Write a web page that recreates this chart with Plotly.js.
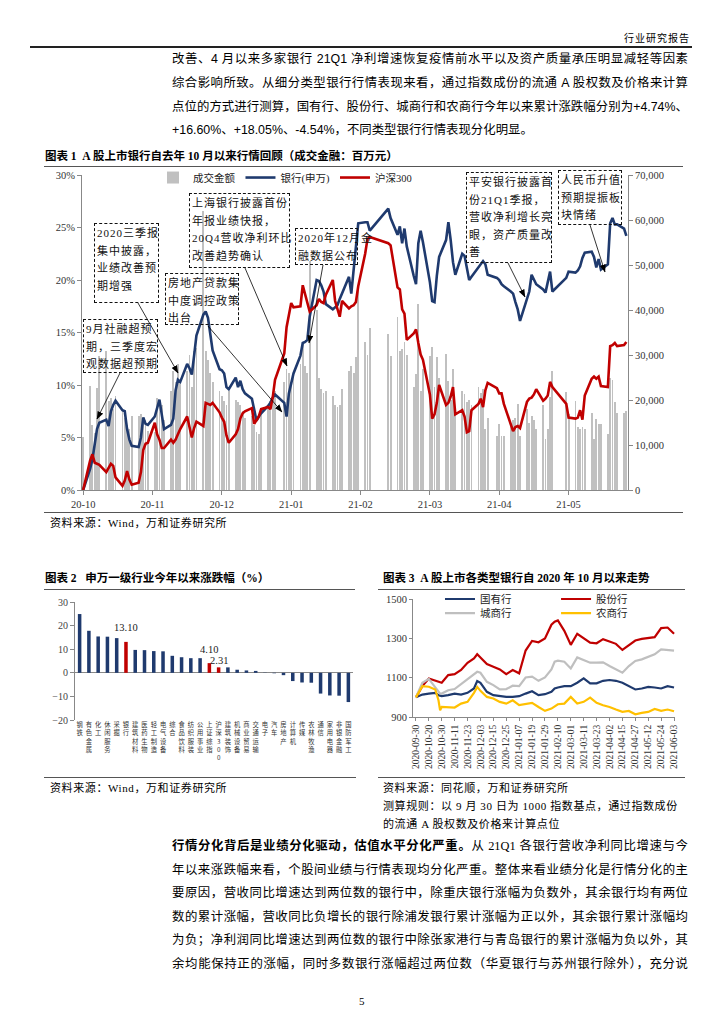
<!DOCTYPE html>
<html><head><meta charset="utf-8">
<script src="https://cdn.plot.ly/plotly-3.0.1.min.js"></script>
<style>
body{margin:0;width:724px;height:1024px;background:#fff;position:relative;overflow:hidden;font-family:"Liberation Serif","Noto Sans CJK SC",serif;color:#000}
.a{position:absolute}
.p{position:absolute;left:172px;width:516px;font-size:12.4px;line-height:16px;text-align:justify;text-align-last:justify;font-family:"Liberation Sans","Noto Sans CJK SC",sans-serif}
.p2{font-family:"Liberation Serif","Noto Sans CJK SC",serif}
.last{text-align-last:left}
.ttl{position:absolute;font-size:11.5px;font-weight:bold;line-height:14px;font-family:"Liberation Serif","Noto Sans CJK SC",serif;white-space:nowrap}
.rule{position:absolute;background:#555;height:1px}
.src{position:absolute;font-size:11px;line-height:14px;white-space:nowrap;letter-spacing:0.6px}
.box{position:absolute;border:1.3px dashed #111;box-sizing:border-box;font-size:11px;line-height:17.5px;letter-spacing:1px;padding:1px 0 0 2px;white-space:nowrap;font-family:"Liberation Serif","Noto Sans CJK SC",serif;color:#111}
</style></head>
<body>
<div class="a" style="right:34px;top:30px;font-size:10px;font-family:'Noto Sans CJK SC';letter-spacing:1px">行业研究报告</div>
<div class="rule" style="left:30px;top:46px;width:662px;height:1.5px;background:#222"></div>

<div class="p" style="top:51px">改善、4 月以来多家银行 21Q1 净利增速恢复疫情前水平以及资产质量承压明显减轻等因素</div>
<div class="p" style="top:75px">综合影响所致。从细分类型银行行情表现来看，通过指数成份的流通 A 股权数及价格来计算</div>
<div class="p" style="top:99px">点位的方式进行测算，国有行、股份行、城商行和农商行今年以来累计涨跌幅分别为+4.74%、</div>
<div class="p last" style="top:122px">+16.60%、+18.05%、-4.54%，不同类型银行行情表现分化明显。</div>

<div class="ttl" style="left:45px;top:149px">图表 1&nbsp;&nbsp;A 股上市银行自去年 10 月以来行情回顾（成交金融：百万元）</div>
<div class="rule" style="left:44px;top:166px;width:639px"></div>
<div id="c1" class="a" style="left:30px;top:146px;width:670px;height:365px"></div>
<div class="rule" style="left:44px;top:512px;width:639px"></div>
<div class="src" style="left:50px;top:516px">资料来源：Wind，万和证券研究所</div>

<div class="box" style="left:94px;top:223px;width:65px;height:80px">2020三季报<br>集中披露，<br>业绩改善预<br>期增强</div>
<div class="box" style="left:83px;top:319px;width:75px;height:54px">9月社融超预<br>期，三季度宏<br>观数据超预期</div>
<div class="box" style="left:165px;top:273px;width:74px;height:52px">房地产贷款集<br>中度调控政策<br>出台</div>
<div class="box" style="left:189px;top:193px;width:101px;height:75px">上海银行披露首份<br>年报业绩快报，<br>20Q4营收净利环比<br>改善趋势确认</div>
<div class="box" style="left:295px;top:228px;width:63px;height:37px">2020年12月金<br>融数据公布</div>
<div class="box" style="left:466px;top:172px;width:86px;height:91px">平安银行披露首<br>份21Q1季报，<br>营收净利增长亮<br>眼，资产质量改<br>善</div>
<div class="box" style="left:558px;top:170px;width:64px;height:55px">人民币升值<br>预期提振板<br>块情绪</div>

<svg class="a" style="left:0;top:0" width="724" height="1024">
<defs><marker id="ah" markerWidth="8" markerHeight="6" refX="7.5" refY="3" orient="auto" markerUnits="userSpaceOnUse"><path d="M0,0 L8,3 L0,6 z" fill="#000"/></marker></defs>
<g stroke="#000" stroke-width="0.8" marker-end="url(#ah)">
<line x1="138" y1="303" x2="178" y2="373"/>
<line x1="120" y1="373" x2="97" y2="419"/>
<line x1="208" y1="326" x2="282" y2="412"/>
<line x1="245" y1="268" x2="287" y2="366"/>
<line x1="323" y1="265" x2="309" y2="343"/>
<line x1="508" y1="263" x2="525" y2="297"/>
<line x1="590" y1="225" x2="605" y2="272"/>
</g></svg>

<div class="ttl" style="left:45px;top:571px">图表 2&nbsp;&nbsp;&nbsp;申万一级行业今年以来涨跌幅（%）</div>
<div class="rule" style="left:44px;top:589px;width:311px"></div>
<div id="c2" class="a" style="left:40px;top:590px;width:320px;height:180px"></div>
<div class="rule" style="left:44px;top:777px;width:312px"></div>
<div class="src" style="left:50px;top:781px">资料来源：Wind，万和证券研究所</div>

<div class="ttl" style="left:383px;top:571px">图表 3&nbsp;&nbsp;A 股上市各类型银行自 2020 年 10 月以来走势</div>
<div class="rule" style="left:378px;top:589px;width:307px"></div>
<div id="c3" class="a" style="left:378px;top:570px;width:310px;height:205px"></div>
<div class="rule" style="left:378px;top:777px;width:307px"></div>
<div class="src" style="left:383px;top:781px">资料来源：同花顺，万和证券研究所</div>
<div class="src" style="left:383px;top:799px">测算规则：以 9 月 30 日为 1000 指数基点，通过指数成份</div>
<div class="src" style="left:383px;top:817px">的流通 A 股权数及价格来计算点位</div>

<div class="p p2" style="top:838px"><b>行情分化背后是业绩分化驱动，估值水平分化严重。</b>从 21Q1 各银行营收净利同比增速与今</div>
<div class="p p2" style="top:862px">年以来涨跌幅来看，个股间业绩与行情表现均分化严重。整体来看业绩分化是行情分化的主</div>
<div class="p p2" style="top:885px">要原因，营收同比增速达到两位数的银行中，除重庆银行涨幅为负数外，其余银行均有两位</div>
<div class="p p2" style="top:909px">数的累计涨幅，营收同比负增长的银行除浦发银行累计涨幅为正以外，其余银行累计涨幅均</div>
<div class="p p2" style="top:932px">为负；净利润同比增速达到两位数的银行中除张家港行与青岛银行的累计涨幅为负以外，其</div>
<div class="p p2" style="top:956px">余均能保持正的涨幅，同时多数银行涨幅超过两位数（华夏银行与苏州银行除外），充分说</div>
<div class="a" style="left:359px;top:995px;font-size:11px">5</div>

<script>
// ---------- data ----------
const tradeDates = ['2020-09-30',
'2020-10-09','2020-10-12','2020-10-13','2020-10-14','2020-10-15','2020-10-16','2020-10-19','2020-10-20','2020-10-21','2020-10-22','2020-10-23','2020-10-26','2020-10-27','2020-10-28','2020-10-29','2020-10-30',
'2020-11-02','2020-11-03','2020-11-04','2020-11-05','2020-11-06','2020-11-09','2020-11-10','2020-11-11','2020-11-12','2020-11-13','2020-11-16','2020-11-17','2020-11-18','2020-11-19','2020-11-20','2020-11-23','2020-11-24','2020-11-25','2020-11-26','2020-11-27','2020-11-30',
'2020-12-01','2020-12-02','2020-12-03','2020-12-04','2020-12-07','2020-12-08','2020-12-09','2020-12-10','2020-12-11','2020-12-14','2020-12-15','2020-12-16','2020-12-17','2020-12-18','2020-12-21','2020-12-22','2020-12-23','2020-12-24','2020-12-25','2020-12-28','2020-12-29','2020-12-30','2020-12-31',
'2021-01-04','2021-01-05','2021-01-06','2021-01-07','2021-01-08','2021-01-11','2021-01-12','2021-01-13','2021-01-14','2021-01-15','2021-01-18','2021-01-19','2021-01-20','2021-01-21','2021-01-22','2021-01-25','2021-01-26','2021-01-27','2021-01-28','2021-01-29',
'2021-02-01','2021-02-02','2021-02-03','2021-02-04','2021-02-05','2021-02-08','2021-02-09','2021-02-10','2021-02-18','2021-02-19','2021-02-22','2021-02-23','2021-02-24','2021-02-25','2021-02-26',
'2021-03-01','2021-03-02','2021-03-03','2021-03-04','2021-03-05','2021-03-08','2021-03-09','2021-03-10','2021-03-11','2021-03-12','2021-03-15','2021-03-16','2021-03-17','2021-03-18','2021-03-19','2021-03-22','2021-03-23','2021-03-24','2021-03-25','2021-03-26','2021-03-29','2021-03-30','2021-03-31',
'2021-04-01','2021-04-02','2021-04-06','2021-04-07','2021-04-08','2021-04-09','2021-04-12','2021-04-13','2021-04-14','2021-04-15','2021-04-16','2021-04-19','2021-04-20','2021-04-21','2021-04-22','2021-04-23','2021-04-26','2021-04-27','2021-04-28','2021-04-29','2021-04-30',
'2021-05-06','2021-05-07','2021-05-10','2021-05-11','2021-05-12','2021-05-13','2021-05-14','2021-05-17','2021-05-18','2021-05-19','2021-05-20','2021-05-21','2021-05-24','2021-05-25','2021-05-26','2021-05-27','2021-05-28','2021-05-31',
'2021-06-01','2021-06-02','2021-06-03'];

// Chart 1: cumulative change since 2020-10-09 (%), daily turnover (million yuan), 2020-10-09 .. 2021-06-01
const bankPct = [
0,2.0,2.9,4.2,5.8,6.4,6.7,6.1,7.5,8.1,8.5,7.6,7.5,5.8,4.8,4.2,
4.1,5.0,6.9,6.3,6.2,7.0,7.8,8.6,7.2,5.8,6.2,6.8,9.5,10.5,10.3,12.0,11.6,11.0,12.8,14.7,16.7,
17.0,16.4,15.0,13.3,11.5,11.4,11.1,9.8,9.6,10.7,9.8,10.4,9.6,9.2,8.7,7.6,6.6,7.0,7.3,8.0,8.3,8.8,9.1,
8.3,7.0,9.2,10.3,11.1,12.8,14.0,14.1,14.3,16.5,20.0,19.9,19.5,18.9,17.7,17.2,17.4,17.6,18.2,18.7,
20.3,18.7,21.0,23.8,25.4,25.5,25.5,24.7,26.8,25.9,24.3,25.1,23.5,24.9,23.2,
20.4,19.6,23.5,24.7,23.6,19.8,18.0,17.9,20.4,22.2,23.8,25.5,23.8,21.7,20.5,22.5,22.3,21.3,20.0,20.3,21.2,21.6,21.8,
21.5,20.5,20.2,20.0,19.6,19.4,18.9,18.7,17.9,17.2,16.1,18.3,18.9,20.5,20.0,19.6,19.1,18.8,19.8,20.8,18.9,
20.2,20.8,20.7,20.9,21.3,22.1,22.6,22.7,22.2,21.2,22.0,21.0,21.5,25.4,25.9,25.3,25.3,24.9,
24.2];
const hs300Pct = [
0,2.8,3.4,2.6,2.5,2.4,1.7,2.1,2.5,2.3,1.2,0.4,0.9,1.8,1.0,0.5,
0.7,1.7,3.8,4.4,4.5,6.4,5.3,4.8,4.0,4.0,4.8,4.5,4.8,5.3,5.8,7.0,6.0,5.0,5.9,6.5,6.1,
8.3,8.2,8.1,8.3,7.4,6.9,6.5,5.2,4.5,5.3,5.8,6.8,7.3,7.5,7.8,6.3,6.6,7.0,7.7,7.9,7.7,8.8,10.5,
13.0,15.5,16.5,17.8,17.4,17.5,19.5,18.6,17.6,17.0,17.6,18.2,17.9,17.8,18.6,20.0,18.0,17.3,16.5,18.0,
17.3,17.5,17.6,17.9,19.4,22.5,23.9,24.1,23.5,23.3,19.3,19.1,17.2,16.8,14.3,
14.9,15.3,14.0,12.9,12.4,9.1,6.8,7.2,8.3,10.0,8.1,8.3,8.9,9.8,7.2,7.6,7.0,5.5,5.6,7.6,8.2,8.7,7.9,
9.5,10.2,9.7,9.2,9.2,8.2,6.1,5.6,6.0,6.1,5.9,8.4,8.7,8.8,9.1,9.6,8.5,8.7,9.0,10.3,9.8,
8.2,6.9,6.8,6.9,7.6,6.7,9.0,10.6,10.8,10.6,10.8,9.9,9.8,13.7,13.8,14.0,13.7,13.8,
14.1];
const turnover = [
11700,23100,14500,12600,22600,29800,31000,19800,20500,18000,21000,17500,16000,14500,13500,16500,
16500,17000,16300,15500,13200,13000,20500,20000,19000,15500,22000,26500,24000,28000,24300,26500,30000,23000,31000,31500,62000,
31000,29000,26000,24000,22000,21000,19800,19000,22000,20000,19500,18800,17500,16000,16500,14500,13000,12500,17000,18500,19800,20000,22000,
24000,27000,26000,23500,25500,28000,33000,27500,26000,51000,40000,25000,22500,21500,22000,21000,19000,18500,19000,22500,
26500,27500,26000,29500,45000,33000,30000,36000,34600,29800,38400,31000,31300,33000,30000,
23000,25700,41300,22100,27000,29800,31700,22800,29500,25000,30200,24300,20000,26900,17000,22000,21300,19500,20000,19000,22800,21500,22400,
13500,16100,12100,14700,12000,12000,14700,15500,16100,19100,12000,17900,15000,16500,15500,13500,19000,11300,13500,20600,26500,
21700,17000,19800,13900,13500,13900,13500,17200,11300,15800,14700,14700,12500,25000,24500,19500,17200,17200,
17600];
const c1TickDates = ['2020-10-09','2020-11-08','2020-12-08','2021-01-07','2021-02-06','2021-03-08','2021-04-07','2021-05-07'];
const c1TickText = ['20-10','20-11','20-12','21-01','21-02','21-03','21-04','21-05'];

// Chart 2
const industries = ['钢铁','有色金属','化工','休闲服务','采掘','银行','建筑材料','医药生物','轻工制造','电气设备','综合','食品饮料','纺织服装','公用事业','上证综指','沪深300','建筑装饰','机械设备','商业贸易','交通运输','电子','汽车','房地产','计算机','传媒','农林牧渔','通信','家用电器','非银金融','国防军工'];
const ytdChange = [24.9,17.8,15.4,15.3,14.7,13.10,9.7,9.6,9.2,9.1,7.2,6.6,6.2,6.2,4.10,2.31,2.3,1.3,1.0,0.8,0.1,-0.2,-1.0,-3.5,-4.1,-4.2,-8.8,-9.6,-9.7,-12.4];
const highlighted = ['银行','上证综指','沪深300'];

// Chart 3: index points (base 1000 on 2020-09-30)
const c3Dates = ['2020-09-30','2020-10-14','2020-10-20','2020-10-26','2020-10-28','2020-10-29','2020-10-30','2020-11-05','2020-11-11','2020-11-17','2020-11-23','2020-11-27','2020-12-01','2020-12-03','2020-12-09','2020-12-15','2020-12-21','2020-12-25','2020-12-31','2021-01-07','2021-01-13','2021-01-19','2021-01-25','2021-01-29','2021-02-04','2021-02-08','2021-02-10','2021-02-23','2021-03-01','2021-03-05','2021-03-11','2021-03-17','2021-03-23','2021-03-29','2021-04-02','2021-04-09','2021-04-15','2021-04-21','2021-04-27','2021-05-06','2021-05-12','2021-05-18','2021-05-24','2021-05-28','2021-06-03'];
const stateBanks = [1000,1014,1019,1023,1011,1010,1006,1011,1019,1014,1023,1045,1083,1074,1028,1011,1006,1002,1002,1006,1019,1031,1011,1016,1028,1045,1050,1057,1057,1074,1096,1071,1071,1084,1088,1084,1074,1057,1040,1045,1053,1050,1045,1057,1050];
const jointBanks = [1000,1057,1096,1084,1079,1074,1074,1113,1118,1139,1176,1198,1219,1203,1169,1156,1142,1118,1139,1122,1238,1287,1280,1299,1369,1384,1391,1338,1267,1323,1299,1278,1275,1296,1284,1272,1241,1267,1289,1297,1301,1306,1352,1355,1323];
const cityBanks = [1000,1074,1094,1050,1028,1019,1019,1036,1042,1067,1091,1113,1130,1125,1079,1062,1040,1042,1059,1057,1101,1105,1084,1101,1142,1181,1186,1181,1147,1203,1190,1176,1176,1178,1159,1142,1125,1159,1185,1193,1207,1219,1244,1241,1238];
const ruralBanks = [1000,1057,1054,1040,985,934,951,951,948,968,977,1023,1053,1033,1002,994,977,968,985,960,965,972,951,931,943,955,965,968,1002,968,977,999,972,960,951,938,926,931,914,921,926,941,931,938,929];

// ---------- charts ----------
const FONT = '"Liberation Serif","Noto Sans CJK SC",serif';
const tickF = {family:FONT, size:10.5, color:'#333'};
const cfg = {staticPlot:true, displayModeBar:false};
const DAY = 86400000;

const mainDates = tradeDates.slice(1, 1 + bankPct.length);
Plotly.newPlot('c1', [
  {type:'bar', x:mainDates, y:turnover, name:'成交金额', marker:{color:'#C0C0C0'}, width:0.8*DAY, yaxis:'y'},
  {type:'scatter', mode:'lines', x:mainDates, y:bankPct, name:'银行(申万)', line:{color:'#1F3A6E', width:2.6}, yaxis:'y2'},
  {type:'scatter', mode:'lines', x:mainDates, y:hs300Pct, name:'沪深300', line:{color:'#C00000', width:2.6}, yaxis:'y2'}
], {
  width:670, height:365, margin:{l:52, r:72, t:29, b:21},
  paper_bgcolor:'rgba(0,0,0,0)', plot_bgcolor:'rgba(0,0,0,0)',
  font:{family:FONT},
  showlegend:true,
  legend:{orientation:'h', x:0.13, y:1.038, xanchor:'left', yanchor:'top', font:{family:FONT, size:10.5, color:'#222'}, bgcolor:'rgba(0,0,0,0)', itemwidth:30, tracegroupgap:0},
  bargap:0,
  xaxis:{type:'date', range:['2020-10-08 12:00','2021-06-01 17:00'], tickmode:'array', tickvals:c1TickDates, ticktext:c1TickText,
         ticks:'outside', ticklen:4, tickcolor:'#888', showline:true, linecolor:'#888', linewidth:1, showgrid:false, zeroline:false, tickfont:tickF},
  yaxis:{side:'right', range:[0,70000], dtick:10000, tickformat:',d', ticks:'outside', ticklen:4, tickcolor:'#888',
         showline:true, linecolor:'#888', showgrid:false, zeroline:false, tickfont:tickF},
  yaxis2:{overlaying:'y', side:'left', range:[0,30], dtick:5, ticksuffix:'%', ticks:'outside', ticklen:4, tickcolor:'#888',
          showline:true, linecolor:'#888', showgrid:false, zeroline:false, tickfont:tickF}
}, cfg);

// label offsets (px above bar top) for the highlighted value labels
const labelLift = {'银行':14, '上证综指':14, '沪深300':7};
Plotly.newPlot('c2', [{
  type:'bar', x:industries, y:ytdChange,
  marker:{color:industries.map(n => highlighted.includes(n) ? '#C00000' : '#1F3A6E')}
}], {
  width:320, height:180, margin:{l:35, r:7, t:12, b:50},
  paper_bgcolor:'rgba(0,0,0,0)', plot_bgcolor:'rgba(0,0,0,0)',
  showlegend:false, bargap:0.62,
  annotations: highlighted.map(n => {
    const v = ytdChange[industries.indexOf(n)];
    return {x:n, y:v, text:v.toFixed(2), showarrow:false, yanchor:'middle', yshift:labelLift[n],
            font:{family:FONT, size:10.5, color:'#222'}};
  }),
  xaxis:{type:'category', tickmode:'array', tickvals:industries, ticktext:industries.map(s => s.split('').join('<br>')),
         tickangle:0, ticks:'', showline:false, showgrid:false, zeroline:false,
         tickfont:{family:'"Noto Sans CJK SC"', size:6.3, color:'#333'}},
  yaxis:{range:[-20,30], dtick:10, ticks:'outside', ticklen:4, tickcolor:'#888', showline:true, linecolor:'#888',
         showgrid:false, zeroline:true, zerolinecolor:'#888', zerolinewidth:1, tickfont:{family:FONT, size:10, color:'#444'}}
}, cfg);

const c3Ticks = tradeDates.filter((d,i) => i % 8 === 0);
const legF = {family:FONT, size:10.5, color:'#222'};
const leg = (x, y) => ({orientation:'h', x:x, y:y, xanchor:'left', yanchor:'middle', font:legF, bgcolor:'rgba(0,0,0,0)', itemwidth:30});
Plotly.newPlot('c3', [
  {type:'scatter', mode:'lines', x:tradeDates, y:tradeDates.map(() => null), showlegend:false, hoverinfo:'skip'},
  {type:'scatter', mode:'lines', x:c3Dates, y:stateBanks, name:'国有行', line:{color:'#1F3A6E', width:2.2}, legend:'legend'},
  {type:'scatter', mode:'lines', x:c3Dates, y:jointBanks, name:'股份行', line:{color:'#C00000', width:2.2}, legend:'legend2'},
  {type:'scatter', mode:'lines', x:c3Dates, y:cityBanks, name:'城商行', line:{color:'#BFBFBF', width:2.2}, legend:'legend3'},
  {type:'scatter', mode:'lines', x:c3Dates, y:ruralBanks, name:'农商行', line:{color:'#FFC000', width:2.2}, legend:'legend4'}
], {
  width:310, height:205, margin:{l:35, r:13, t:29, b:58},
  paper_bgcolor:'rgba(0,0,0,0)', plot_bgcolor:'rgba(0,0,0,0)',
  showlegend:true,
  legend:leg(0.103, 1.0), legend2:leg(0.546, 1.0), legend3:leg(0.103, 0.88), legend4:leg(0.546, 0.88),
  xaxis:{type:'category', categoryorder:'array', categoryarray:tradeDates, range:[-1.8,160.6],
         tickmode:'array', tickvals:c3Ticks, ticktext:c3Ticks, tickangle:-90,
         ticks:'outside', ticklen:3, tickcolor:'#888', showline:true, linecolor:'#888', showgrid:false,
         tickfont:{family:FONT, size:9.5, color:'#333'}},
  yaxis:{range:[900,1500], tick0:900, dtick:200, ticks:'outside', ticklen:3, tickcolor:'#888', showline:true, linecolor:'#888',
         showgrid:false, zeroline:false, tickfont:{family:FONT, size:10.5, color:'#333'}}
}, cfg);
</script>
</body></html>
